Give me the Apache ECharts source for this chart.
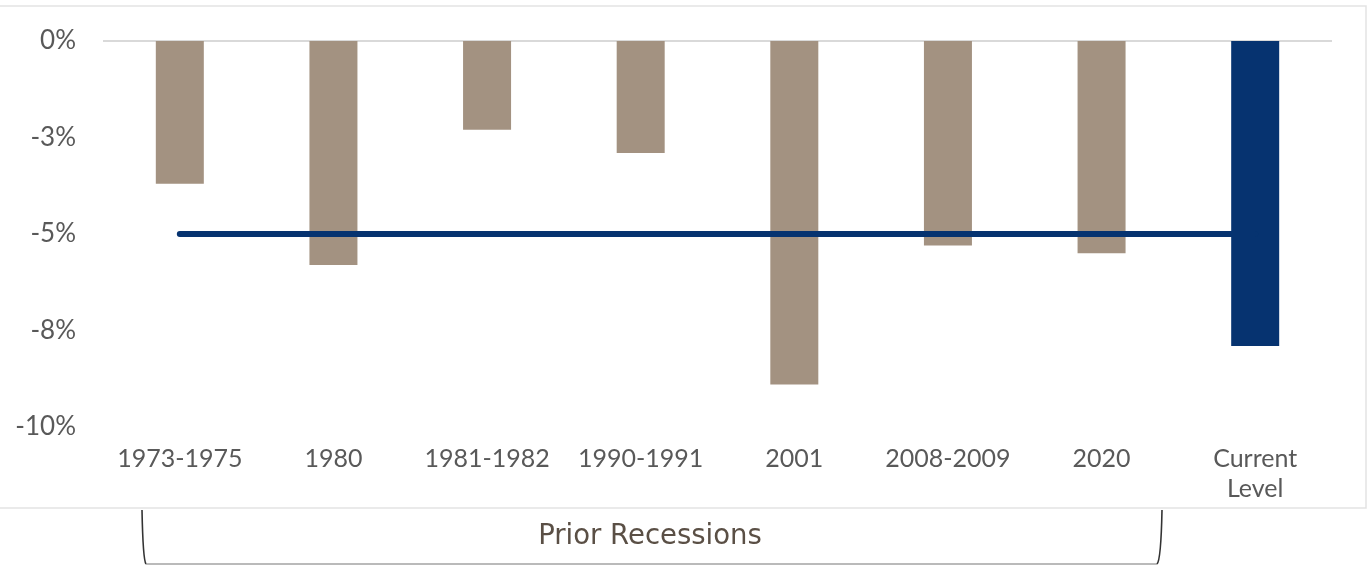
<!DOCTYPE html>
<html>
<head>
<meta charset="utf-8">
<style>
  html, body { margin: 0; padding: 0; background: #ffffff; }
  #chart { width: 1370px; height: 566px; }
</style>
<script src="https://cdn.jsdelivr.net/npm/echarts@6/dist/echarts.min.js"></script>
</head>
<body>
<div id="chart"></div>
<script>
const categories = ['1973-1975', '1980', '1981-1982', '1990-1991', '2001', '2008-2009', '2020', 'Current\nLevel'];
const declineValues = [-3.7, -5.8, -2.3, -2.9, -8.9, -5.3, -5.5, -7.9];
const averageValues = [-5.0, -5.0, -5.0, -5.0, -5.0, -5.0, -5.0, -5.0];
const yTickValues = [0, -2.5, -5, -7.5, -10];
const yTickLabels = ['0%', '-3%', '-5%', '-8%', '-10%'];
const groupLabel = 'Prior Recessions';

const TAN = '#a39281';
const NAVY = '#063370';
const FONT = 'Lato';

const chart = echarts.init(document.getElementById('chart'));
chart.setOption({
  animation: false,
  backgroundColor: '#ffffff',
  grid: { left: 103, right: 38, top: 41, height: 386, containLabel: false },
  xAxis: {
    type: 'category',
    data: categories,
    position: 'bottom',
    axisLine: { show: false },
    axisTick: { show: false },
    axisLabel: {
      interval: 0,
      margin: 17,
      verticalAlign: 'top',
      color: '#595959',
      fontFamily: FONT,
      fontSize: 25,
      lineHeight: 30
    }
  },
  yAxis: {
    type: 'value',
    min: -10,
    max: 0,
    interval: 2.5,
    axisLine: { show: false },
    axisTick: { show: false },
    splitLine: { show: false },
    axisLabel: {
      margin: 27,
      color: '#595959',
      fontFamily: FONT,
      fontSize: 26,
      formatter: function (v) {
        const i = yTickValues.findIndex(t => Math.abs(t - v) < 1e-6);
        return i >= 0 ? yTickLabels[i] : '';
      }
    }
  },
  series: [
    {
      type: 'bar',
      data: declineValues.map((v, i) => ({
        value: v,
        itemStyle: { color: i === declineValues.length - 1 ? NAVY : TAN }
      })),
      barWidth: 48,
      z: 2,
      markLine: {
        silent: true,
        symbol: 'none',
        label: { show: false },
        lineStyle: { color: '#d9d9d9', width: 2, type: 'solid' },
        data: [{ yAxis: 0 }],
        z: 1
      }
    },
    {
      type: 'line',
      data: averageValues,
      symbol: 'none',
      z: 3,
      lineStyle: { color: NAVY, width: 6, cap: 'round' }
    }
  ],
  graphic: [
    {
      type: 'polyline',
      silent: true,
      shape: { points: [[-2, 6], [1366, 6], [1366, 508], [-2, 508]] },
      style: { stroke: '#e3e3e3', lineWidth: 1.5, fill: null }
    },
    {
      type: 'bezierCurve',
      silent: true,
      shape: { x1: 142, y1: 510, cpx1: 143, cpy1: 560, x2: 146, y2: 564 },
      style: { stroke: '#333333', lineWidth: 1.6, fill: null }
    },
    {
      type: 'line',
      silent: true,
      shape: { x1: 146, y1: 564, x2: 1157, y2: 564 },
      style: { stroke: '#777777', lineWidth: 1.2 }
    },
    {
      type: 'bezierCurve',
      silent: true,
      shape: { x1: 1157, y1: 564, cpx1: 1161, cpy1: 560, x2: 1162, y2: 510 },
      style: { stroke: '#333333', lineWidth: 1.6, fill: null }
    },
    {
      type: 'text',
      silent: true,
      x: 650,
      y: 537,
      style: {
        text: groupLabel,
        fill: '#5a4f45',
        font: '27.5px "DejaVu Sans"',
        textAlign: 'center',
        textVerticalAlign: 'middle'
      }
    }
  ]
});
</script>
</body>
</html>
